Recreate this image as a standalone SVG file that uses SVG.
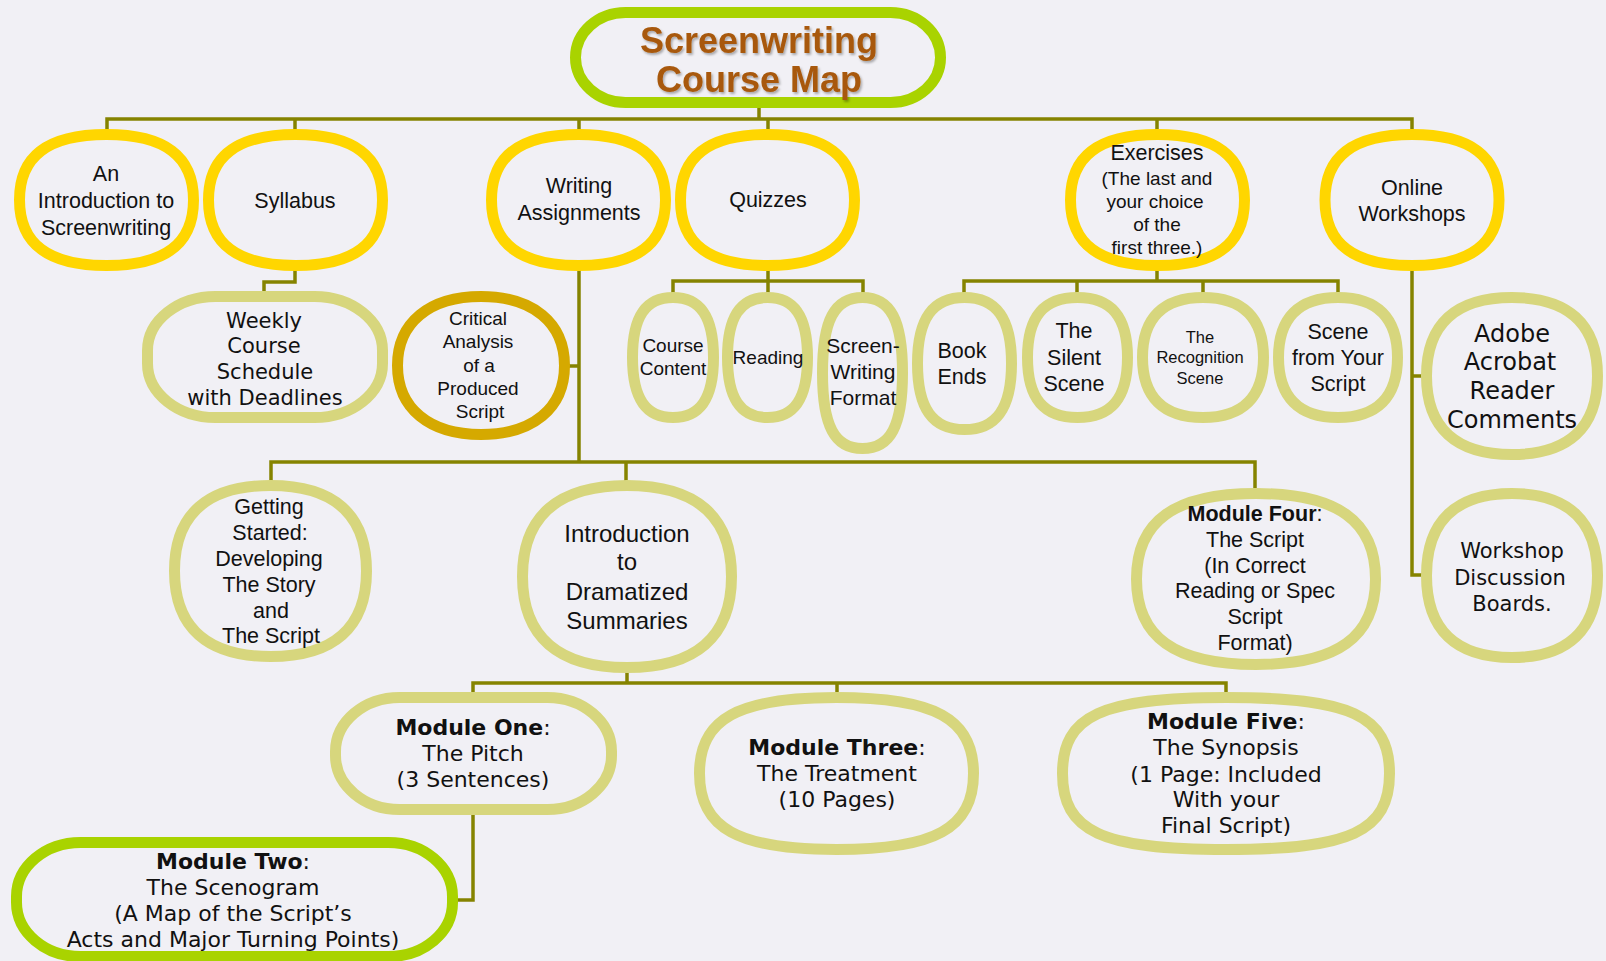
<svg xmlns="http://www.w3.org/2000/svg" width="1606" height="961" viewBox="0 0 1606 961">
<defs>
<style>
.conn{stroke:#858300;stroke-width:3.5;fill:none;stroke-linecap:square}
.n{fill:none;stroke-width:11}
.y{stroke:#ffd600}
.k{stroke:#d7d67d}
.g{stroke:#d5a900}
.l{stroke:#a9d300}
.a{font-family:"Liberation Sans",Arial,sans-serif;fill:#111;text-anchor:middle}
.v{font-family:"DejaVu Sans",Verdana,sans-serif;fill:#111;text-anchor:middle}
.b{font-weight:bold}
.t{font-family:"Liberation Sans",Arial,sans-serif;font-weight:bold;font-size:36px;fill:#a8590b;text-anchor:middle}
</style>
<filter id="sh" x="-10%" y="-20%" width="120%" height="140%">
<feDropShadow dx="1.5" dy="2" stdDeviation="1.2" flood-color="#000" flood-opacity="0.3"/>
</filter>
<path id="top" d="M0,-65.5C58.3,-65.5 87,-43.9 87,0S58.3,65.5 0,65.5S-87,43.9 -87,0S-58.3,-65.5 0,-65.5Z"/>
</defs>
<rect width="1606" height="961" fill="#f1f0f5"/>

<g id="connectors">
<path class="conn" d="M759 108V119M107 119H1412M107 119V129M295 119V129M579 119V129M768 119V129M1157 119V129M1412 119V129"/>
<path class="conn" d="M295 271V282H264V291"/>
<path class="conn" d="M579 271V462M570 366H579M271 462H1255M271 462V480M626 462V480M1255 462V488"/>
<path class="conn" d="M768 271V281M673 281H863M673 281V292M768 281V292M863 281V292"/>
<path class="conn" d="M1157 271V281M964 281H1338M964 281V292M1077 281V292M1203 281V292M1338 281V292"/>
<path class="conn" d="M1412 271V575M1412 376H1421M1412 575H1421"/>
<path class="conn" d="M627 673V683M473 683H1226M473 683V692M837 683V692M1226 683V692"/>
<path class="conn" d="M473 815V900H458"/>
</g>

<g id="title">
<rect class="n l" x="575.5" y="12.5" width="365" height="90" rx="50" ry="45"/>
<text class="t" x="759" y="53" filter="url(#sh)">Screenwriting</text>
<text class="t" x="759" y="92" filter="url(#sh)">Course Map</text>
</g>

<g id="intro">
<use href="#top" class="n y" transform="translate(106.5,200)"/>
<text class="a" font-size="21.5"><tspan x="106" y="181">An</tspan><tspan x="106" y="208">Introduction to</tspan><tspan x="106" y="235">Screenwriting</tspan></text>
</g>

<g id="syllabus">
<use href="#top" class="n y" transform="translate(295.5,200)"/>
<text class="a" font-size="21.5" x="295" y="208">Syllabus</text>
</g>

<g id="writing">
<use href="#top" class="n y" transform="translate(578.5,200)"/>
<text class="a" font-size="21.5"><tspan x="579" y="193">Writing</tspan><tspan x="579" y="220">Assignments</tspan></text>
</g>

<g id="quizzes">
<use href="#top" class="n y" transform="translate(767.5,200)"/>
<text class="a" font-size="21.5" x="768" y="207">Quizzes</text>
</g>

<g id="exercises">
<use href="#top" class="n y" transform="translate(1157.5,200)"/>
<text class="a" font-size="21.5" x="1157" y="160">Exercises</text>
<text class="a" font-size="19"><tspan x="1157" y="185">(The last and</tspan><tspan x="1155" y="208">your choice</tspan><tspan x="1157" y="231">of the</tspan><tspan x="1157" y="254">first three.)</tspan></text>
</g>

<g id="online">
<use href="#top" class="n y" transform="translate(1412,200)"/>
<text class="a" font-size="21.5"><tspan x="1412" y="195">Online</tspan><tspan x="1412" y="221">Workshops</tspan></text>
</g>

<g id="weekly">
<rect class="n k" x="147.5" y="296.5" width="235" height="121" rx="68" ry="54"/>
<text class="v" font-size="21"><tspan x="264" y="328">Weekly</tspan><tspan x="264" y="353">Course</tspan><tspan x="265" y="379">Schedule</tspan><tspan x="265" y="405">with Deadlines</tspan></text>
</g>

<g id="critical">
<path class="n g" transform="translate(481,365.5)" d="M0,-69C51.8,-69 83.5,-42.8 83.5,0S51.8,69 0,69S-83.5,42.8 -83.5,0S-51.8,-69 0,-69Z"/>
<text class="a" font-size="19"><tspan x="478" y="325">Critical</tspan><tspan x="478" y="348">Analysis</tspan><tspan x="479" y="372">of a</tspan><tspan x="478" y="395">Produced</tspan><tspan x="480" y="418">Script</tspan></text>
</g>

<g id="course-content">
<path class="n k" transform="translate(673,357.5)" d="M0,-60C27.5,-60 40.5,-40.8 40.5,0S27.5,60 0,60S-40.5,40.8 -40.5,0S-27.5,-60 0,-60Z"/>
<text class="a" font-size="19"><tspan x="673" y="352">Course</tspan><tspan x="673" y="375">Content</tspan></text>
</g>

<g id="reading">
<path class="n k" transform="translate(767.5,357.5)" d="M0,-60C27.2,-60 40,-40.8 40,0S27.2,60 0,60S-40,40.8 -40,0S-27.2,-60 0,-60Z"/>
<text class="a" font-size="19" x="768" y="364">Reading</text>
</g>

<g id="screen-writing">
<path class="n k" transform="translate(862.5,373)" d="M0,-75.5C28,-75.5 40,-52.9 40,0S28,75.5 0,75.5S-40,52.9 -40,0S-28,-75.5 0,-75.5Z"/>
<text class="a" font-size="21"><tspan x="863" y="353">Screen-</tspan><tspan x="863" y="379">Writing</tspan><tspan x="863" y="405">Format</tspan></text>
</g>

<g id="book-ends">
<path class="n k" transform="translate(964.5,363.5)" d="M0,-66C32,-66 47,-44.9 47,0S32,66 0,66S-47,44.9 -47,0S-32,-66 0,-66Z"/>
<text class="a" font-size="21.5"><tspan x="962" y="358">Book</tspan><tspan x="962" y="384">Ends</tspan></text>
</g>

<g id="silent">
<path class="n k" transform="translate(1077.5,357.5)" d="M0,-60C34,-60 50,-40.8 50,0S34,60 0,60S-50,40.8 -50,0S-34,-60 0,-60Z"/>
<text class="a" font-size="21.5"><tspan x="1074" y="338">The</tspan><tspan x="1074" y="365">Silent</tspan><tspan x="1074" y="391">Scene</tspan></text>
</g>

<g id="recognition">
<path class="n k" transform="translate(1203,357.5)" d="M0,-60C39.9,-60 60.5,-39.6 60.5,0S39.9,60 0,60S-60.5,39.6 -60.5,0S-39.9,-60 0,-60Z"/>
<text class="a" font-size="16.5"><tspan x="1200" y="343">The</tspan><tspan x="1200" y="363">Recognition</tspan><tspan x="1200" y="384">Scene</tspan></text>
</g>

<g id="scene-from">
<path class="n k" transform="translate(1338,357.5)" d="M0,-60C39.3,-60 59.5,-39.6 59.5,0S39.3,60 0,60S-59.5,39.6 -59.5,0S-39.3,-60 0,-60Z"/>
<text class="a" font-size="21.5"><tspan x="1338" y="339">Scene</tspan><tspan x="1338" y="365">from Your</tspan><tspan x="1338" y="391">Script</tspan></text>
</g>

<g id="adobe">
<path class="n k" transform="translate(1512,376)" d="M0,-78.5C56.4,-78.5 85.5,-51.8 85.5,0S56.4,78.5 0,78.5S-85.5,51.8 -85.5,0S-56.4,-78.5 0,-78.5Z"/>
<text class="v" font-size="24"><tspan x="1512" y="342">Adobe</tspan><tspan x="1510" y="370">Acrobat</tspan><tspan x="1512" y="399">Reader</tspan><tspan x="1512" y="428">Comments</tspan></text>
</g>

<g id="workshop">
<path class="n k" transform="translate(1512,575.5)" d="M0,-82C56.4,-82 85.5,-54.1 85.5,0S56.4,82 0,82S-85.5,54.1 -85.5,0S-56.4,-82 0,-82Z"/>
<text class="v" font-size="21"><tspan x="1512" y="558">Workshop</tspan><tspan x="1510" y="585">Discussion</tspan><tspan x="1512" y="611">Boards.</tspan></text>
</g>

<g id="getting-started">
<path class="n k" transform="translate(270.5,571)" d="M0,-85.5C63.4,-85.5 96,-56.4 96,0S63.4,85.5 0,85.5S-96,56.4 -96,0S-63.4,-85.5 0,-85.5Z"/>
<text class="a" font-size="21.5"><tspan x="269" y="514">Getting</tspan><tspan x="270" y="540">Started:</tspan><tspan x="269" y="566">Developing</tspan><tspan x="269" y="592">The Story</tspan><tspan x="271" y="618">and</tspan><tspan x="271" y="643">The Script</tspan></text>
</g>

<g id="intro-dramatized">
<path class="n k" transform="translate(627,576.5)" d="M0,-91C69,-91 104.5,-60.1 104.5,0S69,91 0,91S-104.5,60.1 -104.5,0S-69,-91 0,-91Z"/>
<text class="a" font-size="24"><tspan x="627" y="542">Introduction</tspan><tspan x="627" y="570">to</tspan><tspan x="627" y="600">Dramatized</tspan><tspan x="627" y="629">Summaries</tspan></text>
</g>

<g id="module-four">
<path class="n k" transform="translate(1256,579)" d="M0,-85.5C81.3,-85.5 119.5,-58.1 119.5,0S81.3,85.5 0,85.5S-119.5,58.1 -119.5,0S-81.3,-85.5 0,-85.5Z"/>
<text class="a" font-size="21.5"><tspan x="1255" y="521"><tspan class="b">Module Four</tspan>:</tspan><tspan x="1255" y="547">The Script</tspan><tspan x="1255" y="573">(In Correct</tspan><tspan x="1255" y="598">Reading or Spec</tspan><tspan x="1255" y="624">Script</tspan><tspan x="1255" y="650">Format)</tspan></text>
</g>

<g id="module-one">
<rect class="n k" x="335.5" y="697.5" width="276" height="112" rx="64" ry="54"/>
<text class="v" font-size="22"><tspan x="473" y="735"><tspan class="b">Module One</tspan>:</tspan><tspan x="473" y="761">The Pitch</tspan><tspan x="473" y="787">(3 Sentences)</tspan></text>
</g>

<g id="module-three">
<path class="n k" transform="translate(836.5,773.5)" d="M0,-76C98.6,-76 137,-54.7 137,0S98.6,76 0,76S-137,54.7 -137,0S-98.6,-76 0,-76Z"/>
<text class="v" font-size="22"><tspan x="837" y="755"><tspan class="b">Module Three</tspan>:</tspan><tspan x="837" y="781">The Treatment</tspan><tspan x="837" y="807">(10 Pages)</tspan></text>
</g>

<g id="module-five">
<path class="n k" transform="translate(1226,773.5)" d="M0,-76C124.3,-76 163.5,-57.8 163.5,0S124.3,76 0,76S-163.5,57.8 -163.5,0S-124.3,-76 0,-76Z"/>
<text class="v" font-size="22"><tspan x="1226" y="729"><tspan class="b">Module Five</tspan>:</tspan><tspan x="1226" y="755">The Synopsis</tspan><tspan x="1226" y="782">(1 Page: Included</tspan><tspan x="1226" y="807">With your</tspan><tspan x="1226" y="833">Final Script)</tspan></text>
</g>

<g id="module-two">
<rect class="n l" x="16.5" y="842.5" width="436" height="114" rx="64" ry="54"/>
<text class="v" font-size="22"><tspan x="233" y="869"><tspan class="b">Module Two</tspan>:</tspan><tspan x="233" y="895">The Scenogram</tspan><tspan x="233" y="921">(A Map of the Script’s</tspan><tspan x="233" y="947">Acts and Major Turning Points)</tspan></text>
</g>
</svg>
